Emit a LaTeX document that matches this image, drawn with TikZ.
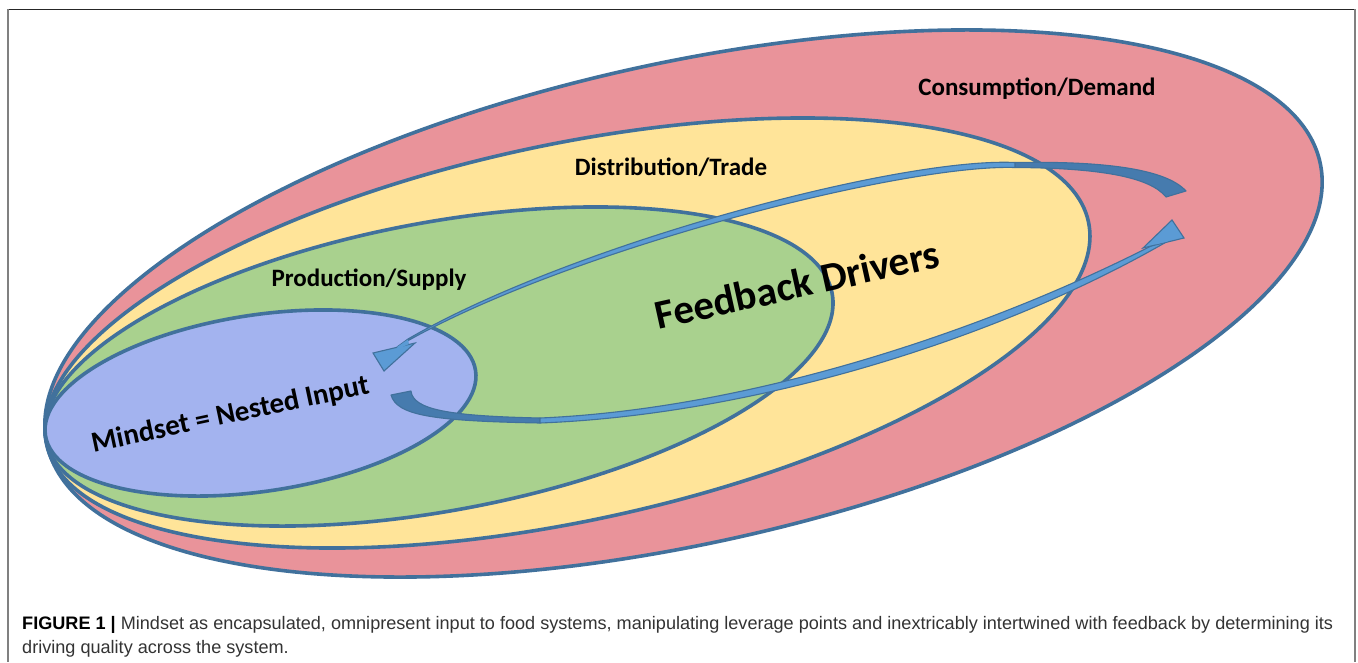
\documentclass[tikz,border=0pt]{standalone}
\usepackage{fontspec}
\setmainfont{Carlito}
\newfontfamily\capfont{Liberation Sans}
\definecolor{ol}{HTML}{41719C}
\definecolor{redf}{HTML}{E9939A}
\definecolor{yelf}{HTML}{FFE499}
\definecolor{grnf}{HTML}{A9D18E}
\definecolor{bluf}{HTML}{A3B3EF}
\definecolor{arrl}{HTML}{5B9BD5}
\definecolor{arrd}{HTML}{467BAE}
\definecolor{capc}{HTML}{333333}
\begin{document}
\begin{tikzpicture}[x=1pt,y=-1pt,
  ring/.style={draw=ol, line width=3.6pt},
  ribbon/.style={fill=arrl, draw=ol, line width=1.1pt, line join=round},
  tail/.style={fill=arrd, draw=ol, line width=1.1pt, line join=round},
  head/.style={fill=arrl, draw=ol, line width=1.1pt, line join=miter},
  lbl/.style={font=\bfseries\fontsize{25}{30}\selectfont, inner sep=0pt, anchor=base},
  captxt/.style={font=\capfont\fontsize{18.1}{21}\selectfont, text=capc, inner sep=0pt, anchor=base west}]
\useasboundingbox (0,0) rectangle (1358,662);
\fill[white] (0,0) rectangle (1358,662);
% frame
\draw[color=black!85, line width=1.4pt] (7.5,9.5) -- (1355,9.5);
\draw[color=black!50, line width=2pt] (7.5,9) -- (7.5,662);
\draw[color=black!50, line width=2pt] (1355,9) -- (1355,662);
% nested ellipses
\path[ring, fill=redf, rotate around={12.5:(683.5,303.5)}] (683.5,303.5) ellipse [x radius=652pt, y radius=240pt];
\path[ring, fill=yelf, rotate around={12.04:(567.5,333)}] (567.5,333) ellipse [x radius=532.7pt, y radius=188.2pt];
\path[ring, fill=grnf, rotate around={10.54:(439,366.5)}] (439,366.5) ellipse [x radius=399.9pt, y radius=144.2pt];
\path[ring, fill=bluf, rotate around={8.56:(260.5,403)}] (260.5,403) ellipse [x radius=217.5pt, y radius=88.2pt];
% arrow B (top, pointing to mindset)
\path[tail] (1186,191) .. controls (1165,168) and (1100,161) .. (1015,162.5)
  -- (1015,167.5) .. controls (1100,168) and (1150,177) .. (1166,197) -- cycle;
\path[ribbon] (1015,162.5) .. controls (900,157) and (572,244) .. (408,339)
  -- (397,347) .. controls (556,253) and (900,164) .. (1015,167.5) -- cycle;
\path[head] (415,343) -- (384,371) -- (373,353) -- cycle;
\fill[arrl] (408,339.5) -- (397,347) -- (398,349) -- (409,344) -- cycle;
% arrow A (bottom, from mindset to consumption)
\path[tail] (391,395) .. controls (397,415) and (430,421) .. (540,423)
  -- (540,418) .. controls (450,416) and (413,410) .. (411,391) -- cycle;
\path[ribbon] (540,418) .. controls (750,409) and (985,331) .. (1155,244)
  -- (1168,241) .. controls (995,341) and (750,415) .. (540,423) -- cycle;
\path[head] (1143,248) -- (1172,220) -- (1184,238) -- cycle;
\fill[arrl] (1155.5,244.5) -- (1167.5,241.5) -- (1166,238) -- (1156,240) -- cycle;
% labels
\node[lbl] (cons) at (1037,95) {Consumption/Demand};
\node[lbl] (dist) at (671,175) {Distribution/Trade};
\node[lbl] (prod) at (369,286) {Production/Supply};
\node[lbl, font=\bfseries\fontsize{41}{47}\selectfont, rotate=12.5] (fb) at (800,298) {Feedback Drivers};
\node[lbl, font=\bfseries\fontsize{29}{34}\selectfont, rotate=12] (mind) at (232,423) {Mindset = Nested Input};
% caption
\node[captxt] (cap1) at (22,629) {\textbf{\color{black}FIGURE 1 |} Mindset as encapsulated, omnipresent input to food systems, manipulating leverage points and inextricably intertwined with feedback by determining its};
\node[captxt] (cap2) at (22,653) {driving quality across the system.};
\end{tikzpicture}
\end{document}
